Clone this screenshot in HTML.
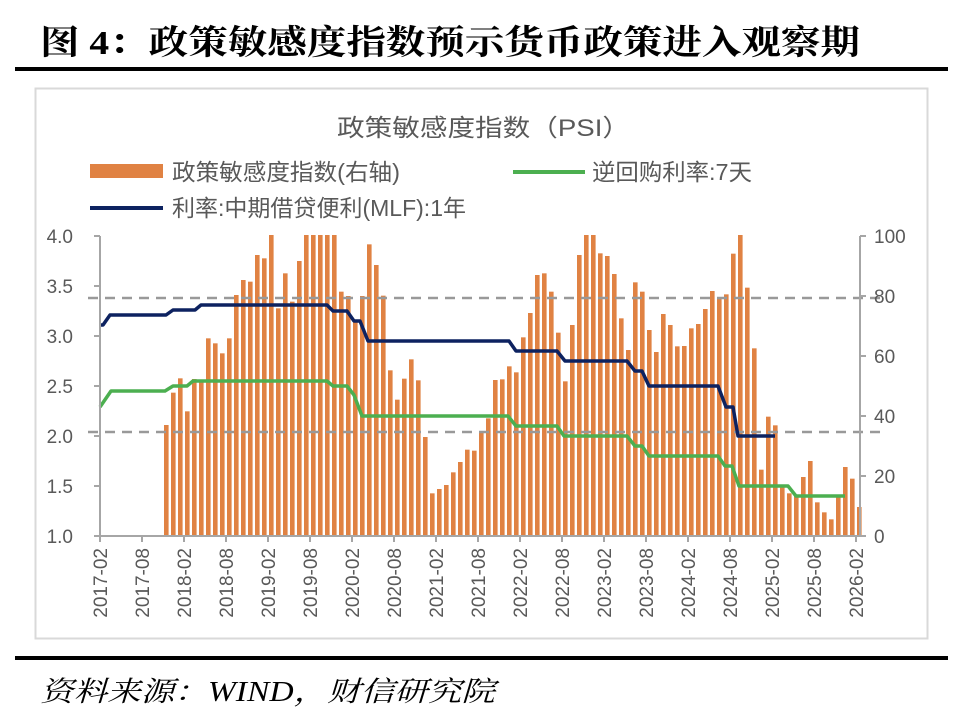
<!DOCTYPE html>
<html><head><meta charset="utf-8"><style>
body{margin:0;background:#fff;width:963px;height:720px;overflow:hidden;}
svg{display:block}
</style></head><body>
<svg width="963" height="720" xmlns="http://www.w3.org/2000/svg" font-family="Liberation Sans, Noto Sans CJK SC, sans-serif">
<text x="40" y="54" font-family="Liberation Serif, Noto Serif CJK SC, serif" font-weight="bold" font-size="34" fill="#000" textLength="820" lengthAdjust="spacingAndGlyphs">图 4：政策敏感度指数预示货币政策进入观察期</text>
<rect x="15" y="67" width="933" height="4" fill="#000"/>
<rect x="35.5" y="88.5" width="892" height="550" fill="#fff" stroke="#d9d9d9" stroke-width="2"/>
<text x="337" y="136" font-size="24" fill="#595959" textLength="293" lengthAdjust="spacingAndGlyphs">政策敏感度指数（PSI）</text>
<rect x="90" y="164" width="73" height="14" fill="#e08243"/>
<text x="172" y="180" font-size="23" fill="#595959" textLength="228" lengthAdjust="spacingAndGlyphs">政策敏感度指数(右轴)</text>
<line x1="513" y1="172" x2="585" y2="172" stroke="#4caf50" stroke-width="4"/>
<text x="592" y="180" font-size="23" fill="#595959" textLength="160" lengthAdjust="spacingAndGlyphs">逆回购利率:7天</text>
<line x1="90" y1="208" x2="163" y2="208" stroke="#0d2260" stroke-width="4"/>
<text x="172" y="216" font-size="23" fill="#595959" textLength="294" lengthAdjust="spacingAndGlyphs">利率:中期借贷便利(MLF):1年</text>
<g id="bars" fill="#e08243"></g>
<g stroke="#999" stroke-width="2.5" stroke-dasharray="10,7">
<line x1="88" y1="298" x2="880" y2="298"/>
<line x1="88" y1="432" x2="880" y2="432"/>
</g>
<polyline fill="none" stroke="#0d2260" stroke-width="3.5" stroke-linejoin="round" points="100,325 103,325 110,315 166,315 173,310 195,310 201,305 327,305 333,311 347,311 354,321 360,321 368,341 509,341 516,351 557,351 565,361 627,361 635,371 642,371 649,386 718,386 726,407 733,407 738,436 775,436"/>
<polyline fill="none" stroke="#4caf50" stroke-width="3.5" stroke-linejoin="round" points="100,407 111,391 165,391 173,386 187,386 193,381 327,381 333,386 347,386 354,395 362,416 508,416 516,426 557,426 564,436 627,436 635,446 642,446 649,456 718,456 725,466 732,466 739,486 788,486 796,496 845,496"/>
<g stroke="#a6a6a6" stroke-width="2">
<line x1="100" y1="236" x2="100" y2="537"/>
<line x1="860" y1="236" x2="860" y2="537"/>
<line x1="94" y1="536" x2="866" y2="536"/>
<g id="ticks"></g>
</g>
<g font-size="19" fill="#595959" text-anchor="end">
<text x="73" y="243">4.0</text><text x="73" y="293">3.5</text><text x="73" y="343">3.0</text><text x="73" y="393">2.5</text><text x="73" y="443">2.0</text><text x="73" y="493">1.5</text><text x="73" y="543">1.0</text>
</g>
<g font-size="19" fill="#595959" text-anchor="start">
<text x="874" y="243">100</text><text x="874" y="303">80</text><text x="874" y="363">60</text><text x="874" y="423">40</text><text x="874" y="483">20</text><text x="874" y="543">0</text>
</g>
<g font-size="19" fill="#595959" text-anchor="end">
<text transform="translate(107,548) rotate(-90)">2017-02</text>
<text transform="translate(149,548) rotate(-90)">2017-08</text>
<text transform="translate(191,548) rotate(-90)">2018-02</text>
<text transform="translate(233,548) rotate(-90)">2018-08</text>
<text transform="translate(275,548) rotate(-90)">2019-02</text>
<text transform="translate(317,548) rotate(-90)">2019-08</text>
<text transform="translate(359,548) rotate(-90)">2020-02</text>
<text transform="translate(401,548) rotate(-90)">2020-08</text>
<text transform="translate(443,548) rotate(-90)">2021-02</text>
<text transform="translate(485,548) rotate(-90)">2021-08</text>
<text transform="translate(527,548) rotate(-90)">2022-02</text>
<text transform="translate(569,548) rotate(-90)">2022-08</text>
<text transform="translate(611,548) rotate(-90)">2023-02</text>
<text transform="translate(653,548) rotate(-90)">2023-08</text>
<text transform="translate(695,548) rotate(-90)">2024-02</text>
<text transform="translate(737,548) rotate(-90)">2024-08</text>
<text transform="translate(779,548) rotate(-90)">2025-02</text>
<text transform="translate(821,548) rotate(-90)">2025-08</text>
<text transform="translate(863,548) rotate(-90)">2026-02</text>
</g>
<rect x="15" y="656" width="933" height="4" fill="#000"/>
<text x="40" y="701" font-family="Liberation Serif, Noto Serif CJK SC, serif" font-style="italic" font-size="28" fill="#000" textLength="455" lengthAdjust="spacingAndGlyphs">资料来源：WIND，财信研究院</text>
</svg>
<script>
var p=[600,503,460,559,462,465,340,355,385,340,210,165,170,90,100,30,250,145,230,108,30,30,30,30,30,200,213,290,213,58,120,212,436,524,461,403,466,636,805,792,780,742,711,674,677,622,
580,465,463,424,442,337,264,150,145,200,323,469,300,90,30,30,85,93,147,280,375,172,200,315,381,267,300,364,363,310,297,252,198,220,208,86,30,188,370,734,575,601,785,805,812,756,708,832,862,883,815,726,761,846];
var ns="http://www.w3.org/2000/svg",g=document.getElementById("bars");
p.forEach(function(v,i){var y=225+v/3;var r=document.createElementNS(ns,"rect");
r.setAttribute("x",164+7*i);r.setAttribute("y",y);r.setAttribute("width",4.6);r.setAttribute("height",536-y);g.appendChild(r);});
var t=document.getElementById("ticks");
function L(a,b,c,d){var l=document.createElementNS(ns,"line");l.setAttribute("x1",a);l.setAttribute("y1",b);l.setAttribute("x2",c);l.setAttribute("y2",d);t.appendChild(l);}
for(var i=0;i<7;i++){L(94,236+50*i,100,236+50*i);}
for(var i=0;i<6;i++){L(860,236+60*i,866,236+60*i);}
for(var i=0;i<19;i++){var x=100+42*i;L(x,536,x,542);}
</script>
</body></html>
